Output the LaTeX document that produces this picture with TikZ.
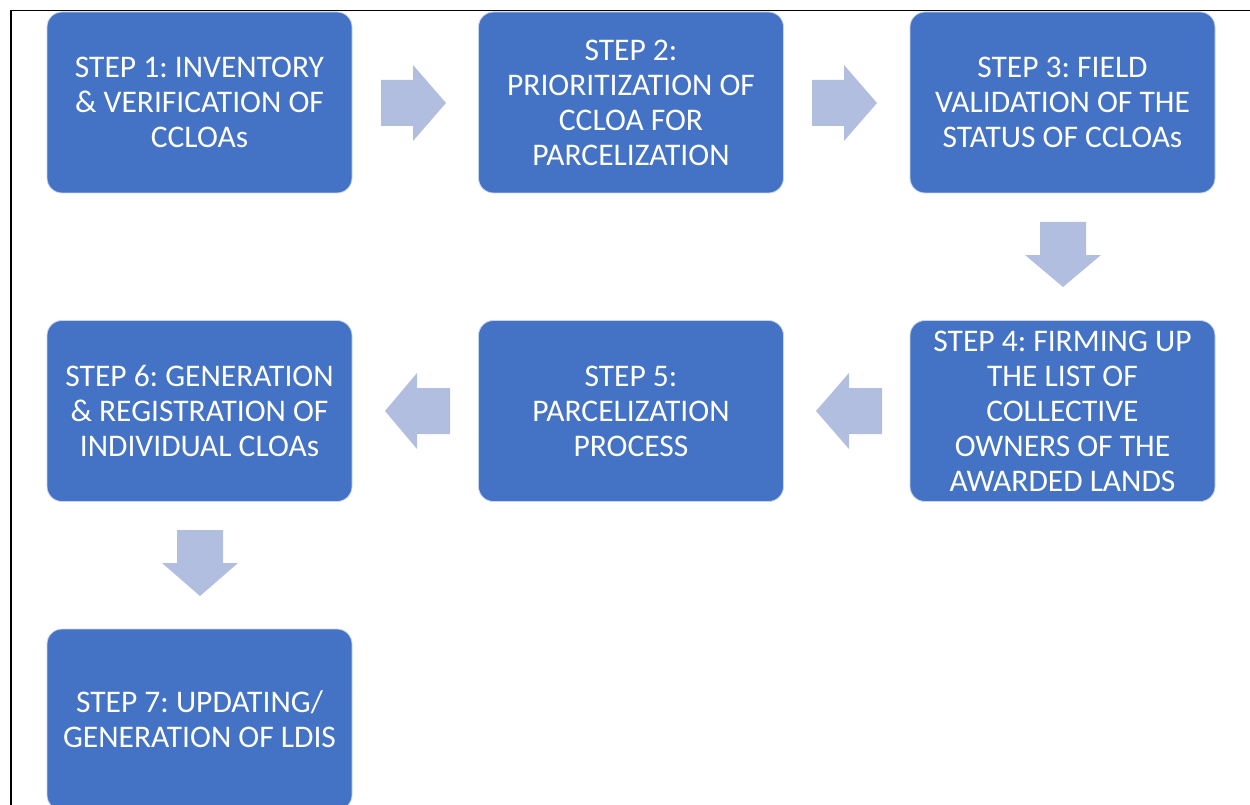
\documentclass[tikz,border=0pt]{standalone}
\usepackage{fontspec}
\setmainfont{Carlito}
\definecolor{boxblue}{HTML}{4472C4}
\definecolor{arrowblue}{HTML}{B1BEE0}
\begin{document}
\begin{tikzpicture}[x=1pt,y=-1pt,
  stepbox/.style={draw=white!70!boxblue, line width=0.8pt, fill=boxblue, rounded corners=15pt,
    text=white, align=center, font=\fontsize{31.5}{35}\selectfont\frenchspacing, inner sep=0pt,
    minimum width=305pt, minimum height=181pt},
  blockarrow/.style={fill=arrowblue, draw=none}]
\useasboundingbox (0,0) rectangle (1250,805);
\draw[line width=1.3pt] (1250,10.5) -- (11,10.5) -- (11,805);
% boxes
\node[stepbox] (s1) at (199.5,102.5) {STEP 1: INVENTORY\\\& VERIFICATION OF\\CCLOAs};
\node[stepbox] (s2) at (631,102.5) {STEP 2:\\PRIORITIZATION OF\\CCLOA FOR\\PARCELIZATION};
\node[stepbox] (s3) at (1062.5,102.5) {STEP 3: FIELD\\VALIDATION OF THE\\STATUS OF CCLOAs};
\node[stepbox] (s4) at (1062.5,411) {STEP 4: FIRMING UP\\THE LIST OF\\COLLECTIVE\\OWNERS OF THE\\AWARDED LANDS};
\node[stepbox] (s5) at (631,411) {STEP 5:\\PARCELIZATION\\PROCESS};
\node[stepbox] (s6) at (199.5,411) {STEP 6: GENERATION\\\& REGISTRATION OF\\INDIVIDUAL CLOAs};
\node[stepbox] (s7) at (199.5,719.5) {STEP 7: UPDATING/\\GENERATION OF LDIS};
% arrows
\fill[blockarrow] (381,80) -- (413,80) -- (413,65) -- (446,103) -- (413,141) -- (413,126) -- (381,126) -- cycle;
\fill[blockarrow] (812,80) -- (844,80) -- (844,65) -- (877,103) -- (844,141) -- (844,126) -- (812,126) -- cycle;
\fill[blockarrow] (1040,222) -- (1086,222) -- (1086,255) -- (1101,255) -- (1063,287) -- (1025,255) -- (1040,255) -- cycle;
\fill[blockarrow] (882,388) -- (849,388) -- (849,373) -- (816,411) -- (849,449) -- (849,434) -- (882,434) -- cycle;
\fill[blockarrow] (450,388) -- (417,388) -- (417,373) -- (385,411) -- (417,449) -- (417,434) -- (450,434) -- cycle;
\fill[blockarrow] (177,530) -- (223,530) -- (223,563) -- (238,563) -- (200,596) -- (162,563) -- (177,563) -- cycle;
\end{tikzpicture}
\end{document}
